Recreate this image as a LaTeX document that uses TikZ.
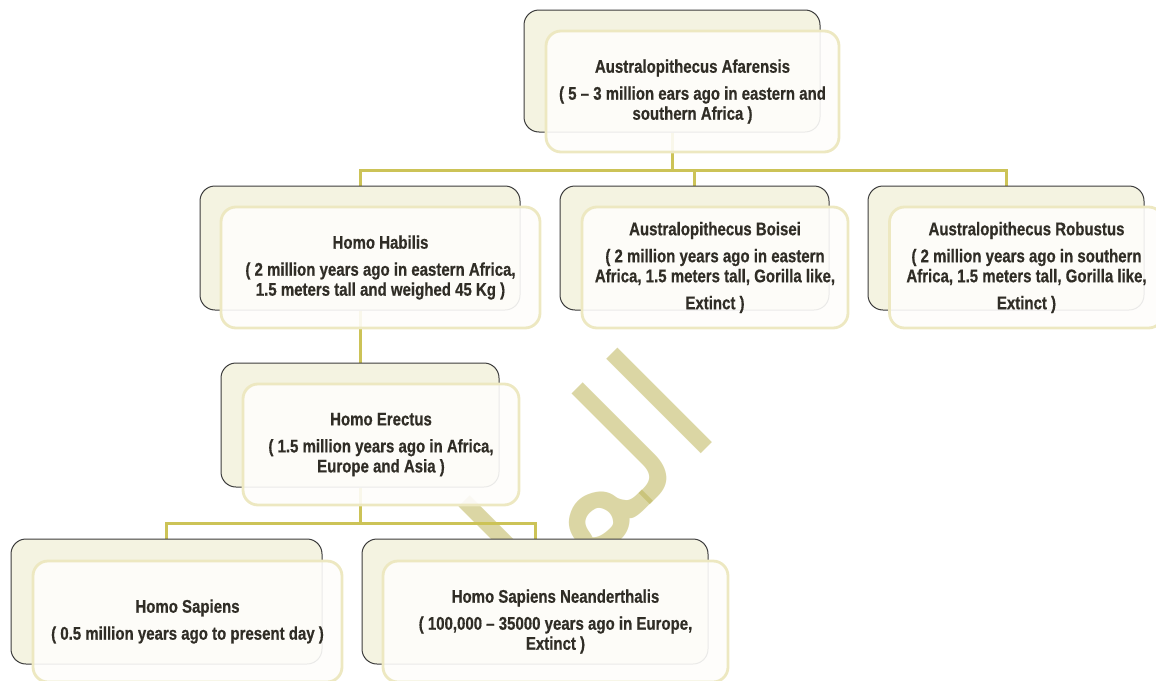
\documentclass[tikz,border=0pt]{standalone}
\usepackage{fontspec}
\setmainfont{Liberation Sans}[FakeStretch=0.82, BoldFeatures={FakeBold=0.6}]
\newfontfamily\wmfont[Script=Arabic]{DejaVu Sans}
\TeXXeTstate=1
\usepackage{tikz}
\usetikzlibrary{positioning, calc, backgrounds}

\definecolor{backfill}{HTML}{F4F3E1}
\definecolor{backline}{HTML}{3C3C3C}
\definecolor{frontline}{HTML}{EDE8C1}
\definecolor{frontfill}{HTML}{FEFDFB}
\definecolor{linkcol}{HTML}{CCC357}
\definecolor{ink}{HTML}{302D26}
\definecolor{wmcol}{HTML}{BDB55A}

\begin{document}
\begin{tikzpicture}[x=1pt, y=-1pt,
    backbox/.style={draw=backline, fill=backfill, line width=1pt, rounded corners=15pt, inner sep=0pt},
    frontbox/.style={draw=frontline, line width=2.8pt, fill=frontfill, fill opacity=0.9, text opacity=1,
        rounded corners=15pt, inner sep=0pt, align=center, text=ink,
        font=\fontsize{18.3}{20}\selectfont\bfseries,
        execute at begin node={\rule{0pt}{22pt}}},
    link/.style={draw=linkcol, line width=3pt},
    wmark/.style={text=wmcol, text opacity=0.55, font=\wmfont\fontsize{176}{176}\selectfont}
]
\useasboundingbox (0,0) rectangle (1156,680);

% Back cards
\node[backbox, minimum width=296pt, minimum height=122pt] (afarensisBack) at (672,71) {};
\node[backbox, minimum width=320pt, minimum height=124pt] (habilisBack) at (360,248) {};
\node[backbox, minimum width=269pt, minimum height=124pt] (boiseiBack) at (694.5,248) {};
\node[backbox, minimum width=276pt, minimum height=124pt] (robustusBack) at (1006,248) {};
\node[backbox, minimum width=278pt, minimum height=124pt] (erectusBack) at (360,425) {};
\node[backbox, minimum width=311pt, minimum height=125pt] (sapiensBack) at (166.5,601.5) {};
\node[backbox, minimum width=346pt, minimum height=125pt] (neanderBack) at (535,601.5) {};

% Front cards with the texts
\node[frontbox, minimum width=293pt, minimum height=121pt] (afarensis) at ($(afarensisBack)+(20.5,20.5)$)
    {Australopithecus Afarensis\\[7pt]( 5 -- 3 million ears ago in eastern and\\southern Africa )};
\node[frontbox, minimum width=319pt, minimum height=121pt] (habilis) at ($(habilisBack)+(20.5,19.5)$)
    {Homo Habilis\\[7pt]( 2 million years ago in eastern Africa,\\1.5 meters tall and weighed 45 Kg )};
\node[frontbox, minimum width=266pt, minimum height=121pt] (boisei) at ($(boiseiBack)+(20.5,19.5)$)
    {Australopithecus Boisei\\[7pt]( 2 million years ago in eastern\\Africa, 1.5 meters tall, Gorilla like,\\[7pt]Extinct )};
\node[frontbox, minimum width=274pt, minimum height=121pt] (robustus) at ($(robustusBack)+(20.5,19.5)$)
    {Australopithecus Robustus\\[7pt]( 2 million years ago in southern\\Africa, 1.5 meters tall, Gorilla like,\\[7pt]Extinct )};
\node[frontbox, minimum width=276pt, minimum height=121pt] (erectus) at ($(erectusBack)+(21,19.5)$)
    {Homo Erectus\\[7pt]( 1.5 million years ago in Africa,\\Europe and Asia )};
\node[frontbox, minimum width=309pt, minimum height=121pt] (sapiens) at ($(sapiensBack)+(21,20)$)
    {Homo Sapiens\\[7pt]( 0.5 million years ago to present day )};
\node[frontbox, minimum width=345pt, minimum height=121pt] (neander) at ($(neanderBack)+(20.5,20)$)
    {Homo Sapiens Neanderthalis\\[7pt]( 100,000 -- 35000 years ago in Europe,\\Extinct )};

% Watermark and connectors behind the cards
\begin{scope}[on background layer]
\begin{scope}
\clip (380,330) rectangle (760,560);
\node[wmark, rotate=45, anchor=base east] (wm) at (727,428) {\beginR الملتقى\endR};
\end{scope}

\coordinate (busTop) at (672,170);
\draw[link] (afarensisBack.south) -- (busTop);
\draw[link] (habilisBack.north) |- (busTop) -| (robustusBack.north);
\draw[link] (busTop) -| (boiseiBack.north);

\draw[link] (habilisBack.south) -- (erectusBack.north);

\coordinate (busLow) at (360,523);
\draw[link] (erectusBack.south) -- (busLow);
\draw[link] (sapiensBack.north) |- (busLow) -| (neanderBack.north);
\end{scope}
\end{tikzpicture}
\end{document}
